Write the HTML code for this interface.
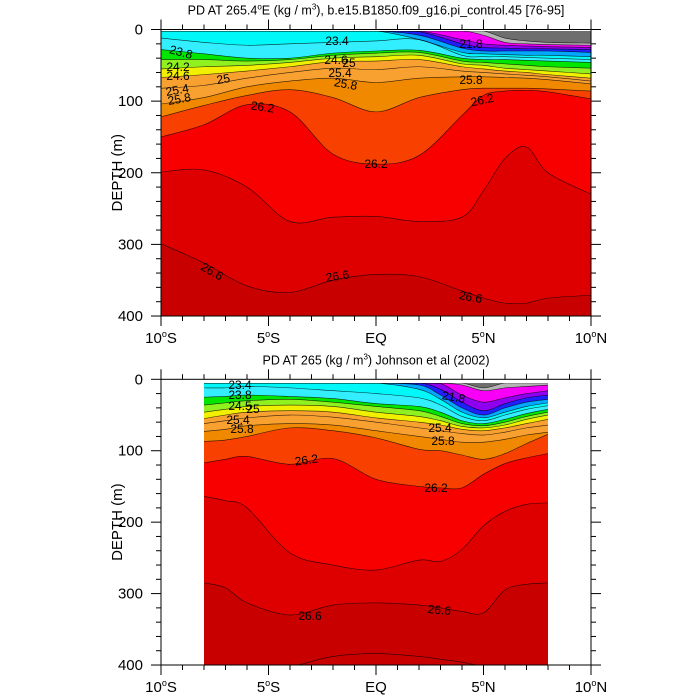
<!DOCTYPE html>
<html><head><meta charset="utf-8">
<style>
body{margin:0;background:#fff;}
svg{display:block;font-family:"Liberation Sans",sans-serif;}
</style></head>
<body>
<svg id="chart" width="700" height="700" viewBox="0 0 700 700" xmlns="http://www.w3.org/2000/svg"></svg>
<script>
// ---------- data ----------
const tickLatVals = [-10,-5,0,5,10];
const tickLatLabels = ["10°S","5°S","EQ","5°N","10°N"];
const depthTicks = [0,100,200,300,400];

// top panel (model), latitudes of profile points
const topLat = [-10,-8,-6,-4,-2,0,2,4,5,6,7,8,10];
const top268 = [420,420,420,420,420,420,420,420,420,420,420,420,420];
const top266 = [299,326,358,367,350,342,345,365,375,382,382,375,371];
const top264 = [199,196,220,268,262,261,268,262,225,180,164,200,230];
const top262 = [150,133,105,115,174,188,176,120,92,86,85,87,97];
const top260 = [122,106,92,84,95,115,95,84,82,82,82,83,86];
const top258 = [104,95,80,72,68,74,68,66,66,67,68,70,76];
const top254 = [82,78,68,60,54,56,52,58,60,62,64,66,72];
const top250 = [67,63,58,52,45,44,42,52,55,58,60,63,68];
const top246 = [55,52,50,46,40,38,36,48,50,54,56,58,62];
const top242 = [42,42,44,42,36,33,32,44,46,48,50,52,54];
const top240 = [28,34,40,40,33,30,29,40,42,42,43,44,46];
const top238 = [12,18,22,20,18,16,14,36,38,38,39,40,42];
const top230 = [0,0,0,0,0,0,14,32,34,35,36,36,38];
const top226 = [0,0,0,0,0,0,8,26,30,30,30,30,32];
const top222 = [0,0,0,0,0,0,3,20,25,26,27,27,28];
const top218 = [0,0,0,0,0,0,0,14,20,22,23,24,25];
const top214 = [0,0,0,0,0,0,0,0,8,18,20,21,22];
const top210 = [0,0,0,0,0,0,0,0,0,12,16,18,19];

// bottom panel (Johnson et al 2002)
const botLat = [-8,-7,-6,-4,-2,0,2,3,4,5,6,7,8];
const bot268 = [405,405,405,402,388,384,388,392,396,402,405,405,405];
const bot266 = [285,292,313,330,316,313,316,320,325,327,295,287,285];
const bot264 = [164,170,180,243,260,267,253,255,238,205,185,175,173];
const bot262 = [117,112,108,119,111,140,150,152,152,133,118,110,104];
const bot260 = [87,85,80,68,72,82,98,100,106,112,104,90,77];
const bot258 = [73,70,65,62,64,72,80,84,88,88,84,78,74];
const bot254 = [62,58,54,50,53,60,68,72,76,78,74,68,64];
const bot250 = [55,50,46,44,46,54,60,64,70,72,68,62,56];
const bot246 = [46,42,38,36,38,46,52,58,66,68,64,56,50];
const bot242 = [36,33,30,28,32,38,44,52,62,65,60,52,46];
const bot240 = [25,24,22,24,27,34,38,46,58,62,56,48,42];
const bot234 = [12,12,10,12,16,20,26,36,52,58,50,42,37];
const bot230 = [0,0,0,0,0,0,14,28,46,54,46,38,33];
const bot226 = [0,0,0,0,0,0,8,22,40,50,40,32,28];
const bot222 = [0,0,0,0,0,0,2,14,32,44,34,26,22];
const bot218 = [0,0,0,0,0,0,0,6,22,32,26,20,16];
const bot214 = [0,0,0,0,0,0,0,0,8,16,12,10,8];
const bot210 = [0,0,0,0,0,0,0,0,0,12,2,0,0];

// ---------- drawing ----------
const NS = "http://www.w3.org/2000/svg";
const svg = document.getElementById("chart");
function el(tag, attrs, parent){
  const e = document.createElementNS(NS, tag);
  for (const k in attrs) e.setAttribute(k, attrs[k]);
  (parent||svg).appendChild(e);
  return e;
}
const X0 = 161, XPD = 21.5;
function xScale(lat){ return X0 + (lat+10)*XPD; }

function curvePath(lats, deps, yScale, yMin){
  const pts = lats.map((l,i)=>[xScale(l), Math.max(yMin, yScale(deps[i]))]);
  let d = "M"+pts[0][0]+","+pts[0][1];
  for (let i=0;i<pts.length-1;i++){
    const p0=pts[Math.max(0,i-1)], p1=pts[i], p2=pts[i+1], p3=pts[Math.min(pts.length-1,i+2)];
    let c1y = p1[1]+(p2[1]-p0[1])/6, c2y = p2[1]-(p3[1]-p1[1])/6;
    c1y=Math.max(yMin,c1y); c2y=Math.max(yMin,c2y);
    d += " C"+(p1[0]+(p2[0]-p0[0])/6)+","+c1y+" "+(p2[0]-(p3[0]-p1[0])/6)+","+c2y+" "+p2[0]+","+p2[1];
  }
  return {d, pts};
}

function panel(cfg){
  const g = el("g", {});
  
  
  const yScale = d => cfg.y0 + d*cfg.k;
  const clipId = cfg.name+"-clip";
  const cp = el("clipPath", {id:clipId}, g);
  el("rect", {x:cfg.dx0, y:cfg.dy0, width:cfg.dx1-cfg.dx0, height:cfg.y1-cfg.dy0}, cp);
  const fg = el("g", {"clip-path":"url(#"+clipId+")"}, g);
  const base = el("rect", {x:cfg.dx0, y:cfg.dy0, width:cfg.dx1-cfg.dx0, height:cfg.y1-cfg.dy0, fill:cfg.deepColor}, fg);
  
  
  const lines = [];
  cfg.levels.forEach(lv=>{
    const c = curvePath(cfg.lat, lv.arr, yScale, cfg.dy0);
    const first = c.pts[0], last = c.pts[c.pts.length-1];
    const fillD = "M"+(first[0]-30)+","+(cfg.dy0-5)+" L"+(first[0]-30)+","+first[1]+" L"+first[0]+","+first[1]+c.d.replace(/^M[^ ]+/,"")+" L"+(last[0]+30)+","+last[1]+" L"+(last[0]+30)+","+(cfg.dy0-5)+" Z";
    const p = el("path", {d:fillD, fill:lv.color, stroke:"none"}, fg);
    
    
    lines.push(c.d);
  });
  lines.forEach((d,i)=>{
    const l = el("path", {d:d, fill:"none", stroke:"#000", "stroke-width":0.6, "stroke-opacity":0.8}, fg);
    
    
  });
  cfg.labels.forEach(lb=>{
    const t = el("text", {x:lb[1], y:lb[2], "font-size":12, fill:"#000", "text-anchor":"middle", transform:"rotate("+(lb[3]||0)+" "+lb[1]+" "+lb[2]+")"}, g);
    t.textContent = lb[0];
    
    
  });
  const fr = el("rect", {x:X0, y:cfg.y0, width:430, height:cfg.y1-cfg.y0, fill:"none", stroke:"#000", "stroke-width":1}, g);
  
  
  for (let lat=-10; lat<=10; lat++){
    const x = xScale(lat), maj = lat%5===0, L = maj?10:5;
    el("line", {x1:x, x2:x, y1:cfg.y1, y2:cfg.y1+L, stroke:"#000", "stroke-width":1}, g);
    el("line", {x1:x, x2:x, y1:cfg.y0, y2:cfg.y0-L, stroke:"#000", "stroke-width":1}, g);
  }
  tickLatVals.forEach((v,i)=>{
    const t = el("text", {x:xScale(v), y:cfg.y1+27, "font-size":15, "text-anchor":"middle"}, g);
    const lab = tickLatLabels[i];
    if (lab.indexOf("°")>=0){
      const parts = lab.split("°");
      t.appendChild(document.createTextNode(parts[0]));
      const s = el("tspan", {"font-size":9, dy:-6}, t); s.textContent = "o";
      const s2 = el("tspan", {dy:6}, t); s2.textContent = parts[1];
    } else t.textContent = lab;
    
    
  });
  for (let dpt=0; dpt<=400; dpt+=20){
    const y = yScale(dpt), maj = dpt%100===0, L = maj?10:5;
    el("line", {x1:X0, x2:X0-L, y1:y, y2:y, stroke:"#000", "stroke-width":1}, g);
    el("line", {x1:591, x2:591+L, y1:y, y2:y, stroke:"#000", "stroke-width":1}, g);
  }
  depthTicks.forEach(v=>{
    const t = el("text", {x:143, y:yScale(v)+5, "font-size":15, "text-anchor":"end"}, g);
    t.textContent = v;
    
    
  });
  const ym = (cfg.y0+cfg.y1)/2;
  const yt = el("text", {x:122, y:ym, "font-size":15, "text-anchor":"middle", transform:"rotate(-90 122 "+ym+")"}, g);
  yt.textContent = "DEPTH (m)";
  
  
  const tt = el("text", {x:376, y:cfg.y0-15, "font-size":12.5, "text-anchor":"middle"}, g);
  
  
  cfg.title(tt);
}

const C = {
  dr2:"#de0000", red:"#f80000", dko:"#f84000", org:"#f08800", lor:"#f8a030", yel:"#f0f000",
  ygr:"#90f020", grn:"#00e600", cya:"#33eeff", cya2:"#00f8f8", sky:"#00a8ff", blu:"#2020ff", pur:"#9000f0",
  mag:"#f800f8", lgr:"#b4b4b4", dgr:"#6e6e6e"
};

panel({
  name:"model-panel", y0:29.5, y1:316, k:0.7163, dx0:161, dx1:591, dy0:31,
  lat:topLat, deepColor:"#c80000",
  levels:[
    {name:"26-8",arr:top268,color:"#c80000"},
    {name:"26-6",arr:top266,color:C.dr2},
    {name:"26-4",arr:top264,color:C.red},
    {name:"26-2",arr:top262,color:C.dko},
    {name:"26-0",arr:top260,color:C.org},
    {name:"25-8",arr:top258,color:C.lor},
    {name:"25-4",arr:top254,color:C.lor},
    {name:"25-0",arr:top250,color:C.yel},
    {name:"24-6",arr:top246,color:C.ygr},
    {name:"24-2",arr:top242,color:C.grn},
    {name:"24-0",arr:top240,color:C.cya},
    {name:"23-8",arr:top238,color:C.cya2},
    {name:"23-0",arr:top230,color:C.sky},
    {name:"22-6",arr:top226,color:C.blu},
    {name:"22-2",arr:top222,color:C.pur},
    {name:"21-8",arr:top218,color:C.mag},
    {name:"21-4",arr:top214,color:C.lgr},
    {name:"21-0",arr:top210,color:C.dgr}
  ],
  labels:[["23.8",180,56,15],["24.2",178,71,0],["24.6",178,80,0],["25",224,83,-10],["25.4",178,94,-10],["25.8",180,103,-10],
    ["26.2",262,111,8],["23.4",337,45,0],["24.6",336,64,0],["25",349,67,0],["25.4",340,77,0],["25.8",345,88,10],
    ["26.2",376,168,0],["26.2",483,104,-12],["21.8",471,48,0],["25.8",471,84,0],
    ["26.6",210,275,30],["26.6",338,280,-8],["26.6",470,301,10]],
  title:t=>{ t.textContent="PD AT 265.4"; const s=el("tspan",{"font-size":8,dy:-5},t); s.textContent="o"; const s2=el("tspan",{dy:5},t); s2.textContent="E (kg / m"; const s3=el("tspan",{"font-size":8,dy:-5},t); s3.textContent="3"; const s4=el("tspan",{dy:5},t); s4.textContent="), b.e15.B1850.f09_g16.pi_control.45 [76-95]"; }
});

panel({
  name:"observed-panel", y0:379.3, y1:665, k:0.7143, dx0:204, dx1:548, dy0:383,
  lat:botLat, deepColor:"#c80000",
  levels:[
    {name:"26-8",arr:bot268,color:"#c80000"},
    {name:"26-6",arr:bot266,color:C.dr2},
    {name:"26-4",arr:bot264,color:C.red},
    {name:"26-2",arr:bot262,color:C.dko},
    {name:"26-0",arr:bot260,color:C.org},
    {name:"25-8",arr:bot258,color:C.lor},
    {name:"25-4",arr:bot254,color:C.lor},
    {name:"25-0",arr:bot250,color:C.yel},
    {name:"24-6",arr:bot246,color:C.ygr},
    {name:"24-2",arr:bot242,color:C.grn},
    {name:"24-0",arr:bot240,color:C.cya},
    {name:"23-4",arr:bot234,color:C.cya2},
    {name:"23-0",arr:bot230,color:C.sky},
    {name:"22-6",arr:bot226,color:C.blu},
    {name:"22-2",arr:bot222,color:C.pur},
    {name:"21-8",arr:bot218,color:C.mag},
    {name:"21-4",arr:bot214,color:C.lgr},
    {name:"21-0",arr:bot210,color:C.dgr}
  ],
  labels:[["23.4",240,389,0],["23.8",240,399,0],["24.5",240,410,0],["25",253,413,0],["25.4",238,424,0],["25.8",242,433,0],
    ["26.2",307,464,-8],["26.2",436,492,0],["21.8",453,401,10],["25.4",440,432,0],["25.8",443,445,0],
    ["26.6",310,620,0],["26.6",439,614,5]],
  title:t=>{ t.textContent="PD AT 265 (kg / m"; const s=el("tspan",{"font-size":8,dy:-5},t); s.textContent="3"; const s2=el("tspan",{dy:5},t); s2.textContent=") Johnson et al (2002)"; }
});
</script>
</body></html>
